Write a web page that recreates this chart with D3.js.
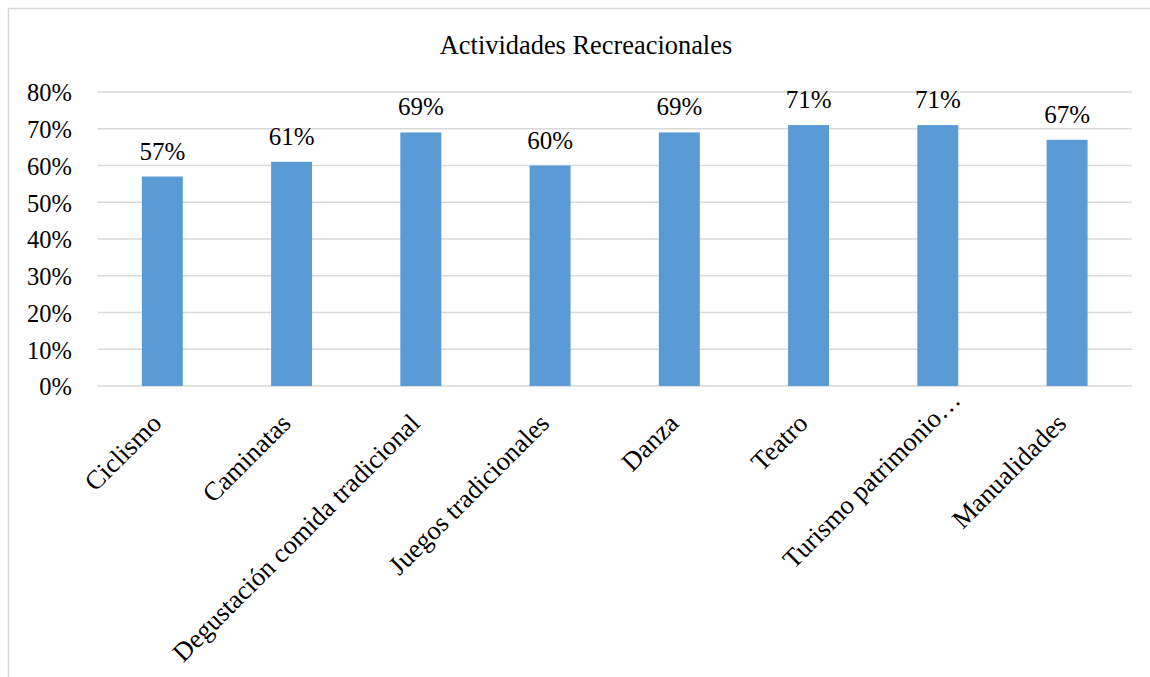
<!DOCTYPE html>
<html>
<head>
<meta charset="utf-8">
<script src="https://cdn.jsdelivr.net/npm/d3@7"></script>
<style>
  html, body { margin: 0; padding: 0; background: #fff; }
  svg { display: block; }
  svg text { font-family: 'Liberation Serif', 'Times New Roman', serif !important; fill: #000; }
</style>
</head>
<body>
<svg id="chart" width="1150" height="677"></svg>
<script>
// Survey results: share of respondents interested in each recreational activity
const categories = [
  "Ciclismo",
  "Caminatas",
  "Degustación comida tradicional",
  "Juegos tradicionales",
  "Danza",
  "Teatro",
  "Turismo patrimonio…",
  "Manualidades"
];
const values = [0.57, 0.61, 0.69, 0.60, 0.69, 0.71, 0.71, 0.67];
const yTicks = [0, 0.1, 0.2, 0.3, 0.4, 0.5, 0.6, 0.7, 0.8];
const title = "Actividades Recreacionales";

const W = 1150, H = 677;
const plot = { left: 97.7, right: 1131.7, top: 92, bottom: 386 };
const serif = "'Liberation Serif', 'Times New Roman', serif";

const svg = d3.select("#chart");

// chart frame
svg.append("rect")
  .attr("x", 8.5).attr("y", 8.5)
  .attr("width", W + 20).attr("height", H + 20)
  .attr("fill", "#fff")
  .attr("stroke", "#d9d9d9")
  .attr("stroke-width", 1.5);

const x = d3.scaleBand()
  .domain(categories)
  .range([plot.left, plot.right])
  .paddingInner(0.683)
  .paddingOuter(0.3415);

const y = d3.scaleLinear()
  .domain([0, 0.8])
  .range([plot.bottom, plot.top]);

// horizontal gridlines
svg.append("g")
  .selectAll("line")
  .data(yTicks)
  .join("line")
  .attr("x1", plot.left).attr("x2", plot.right)
  .attr("y1", d => y(d)).attr("y2", d => y(d))
  .attr("stroke", "#d9d9d9")
  .attr("stroke-width", 1.5);

// y axis labels
const pct = d3.format(".0%");
const yAxis = d3.axisLeft(y).tickValues(yTicks).tickFormat(pct).tickSize(0).tickPadding(0);
const yg = svg.append("g")
  .attr("transform", `translate(${72},0)`)
  .call(yAxis)
  .attr("font-family", serif)
  .attr("font-size", 24.5);
yg.select(".domain").remove();
yg.selectAll("text")
  .style("font-family", serif)
  .style("font-size", "24.5px")
  .attr("fill", "#000")
  .attr("dy", "0.36em");

// bars
svg.append("g")
  .selectAll("rect")
  .data(values)
  .join("rect")
  .attr("x", (d, i) => x(categories[i]))
  .attr("width", x.bandwidth())
  .attr("y", d => y(d))
  .attr("height", d => y(0) - y(d))
  .attr("fill", "#5b9bd5");

// value labels above bars
svg.append("g")
  .selectAll("text")
  .data(values)
  .join("text")
  .attr("x", (d, i) => x(categories[i]) + x.bandwidth() / 2)
  .attr("y", d => y(d) - 17)
  .attr("text-anchor", "middle")
  .style("font-family", serif)
  .style("font-size", "25px")
  .text(d => pct(d));

// rotated category labels
svg.append("g")
  .selectAll("text")
  .data(categories)
  .join("text")
  .attr("transform", d => `translate(${x(d) + x.bandwidth() / 2},${plot.bottom}) rotate(-45)`)
  .attr("x", d => d.endsWith("…") ? 6 : -27)
  .attr("y", 28)
  .attr("text-anchor", "end")
  .style("font-family", serif)
  .style("font-size", "26.5px")
  .text(d => d);

// title
svg.append("text")
  .attr("x", 586)
  .attr("y", 54)
  .attr("text-anchor", "middle")
  .style("font-family", serif)
  .style("font-size", "26.4px")
  .text(title);
</script>
</body>
</html>
